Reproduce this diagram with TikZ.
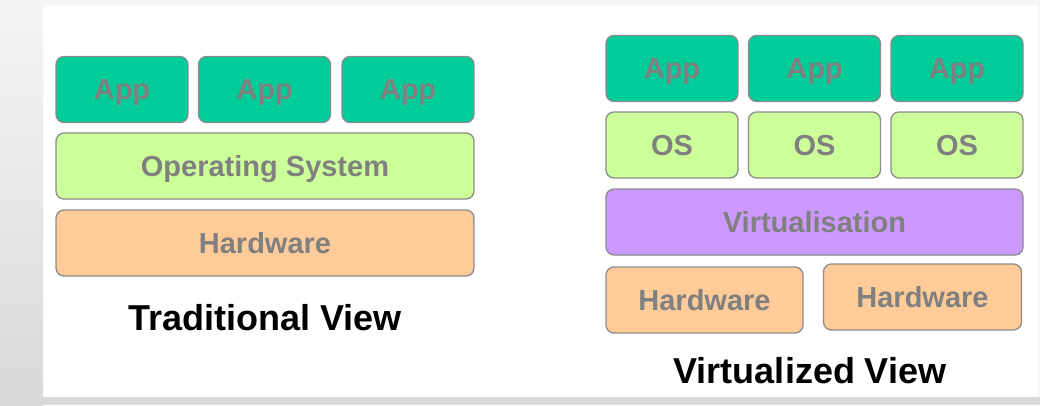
\documentclass[tikz,border=0pt]{standalone}
\usepackage{fontspec}
\setmainfont{Liberation Sans}
\definecolor{appgreen}{HTML}{00CC99}
\definecolor{osgreen}{HTML}{CCFF99}
\definecolor{hwsand}{HTML}{FFCC99}
\definecolor{virtlilac}{HTML}{CC99FF}
\definecolor{edgegray}{HTML}{8C8C8C}
\definecolor{labelgray}{HTML}{808080}
\begin{document}
\begin{tikzpicture}[x=0.75pt, y=-0.75pt,
        layer/.style={draw=edgegray, line width=1pt, rounded corners=6pt,
            minimum height=49.5pt, inner sep=0pt, text=labelgray,
            font=\bfseries\fontsize{21.75}{26}\selectfont,
            text height=15.6pt, text depth=0pt},
        app/.style={layer, fill=appgreen, minimum width=99pt},
        os/.style={layer, fill=osgreen},
        hw/.style={layer, fill=hwsand},
        virt/.style={layer, fill=virtlilac},
        viewtitle/.style={anchor=base, font=\bfseries\fontsize{27}{32}\selectfont}]
    % page background
    \useasboundingbox (0,0) rectangle (1040,405);
    \fill [white] (0,0) rectangle (1040,405);
    \fill [gray!8] (0,0) rectangle (1040,5);
    \fill [gray!8] (1038,0) rectangle (1040,405);
    \shade [top color=gray!8, bottom color=gray!30] (0,0) rectangle (43,405);
    \fill [gray!30] (0,397) rectangle (1040,405);

    % traditional view
    \node [app] (tapp1) at (122,89.5) {App};
    \node [app] (tapp2) at (264.5,89.5) {App};
    \node [app] (tapp3) at (408,89.5) {App};
    \node [os, minimum width=313.5pt] (tos) at (265,166) {Operating System};
    \node [hw, minimum width=313.5pt] (thw) at (265,243) {Hardware};
    \node [viewtitle] (ttitle) at (265,330) {Traditional View};

    % virtualized view
    \node [app] (vapp1) at (672,68.5) {App};
    \node [app] (vapp2) at (814.5,68.5) {App};
    \node [app] (vapp3) at (957,68.5) {App};
    \node [os, minimum width=99pt] (vos1) at (672,145) {OS};
    \node [os, minimum width=99pt] (vos2) at (814.5,145) {OS};
    \node [os, minimum width=99pt] (vos3) at (957,145) {OS};
    \node [virt, minimum width=312.75pt] (vvirt) at (814.5,222) {Virtualisation};
    \node [hw, minimum width=147.75pt] (vhw1) at (704.5,300) {Hardware};
    \node [hw, minimum width=148.5pt] (vhw2) at (922.5,297) {Hardware};
    \node [viewtitle] (vtitle) at (810,383) {Virtualized View};
\end{tikzpicture}
\end{document}
